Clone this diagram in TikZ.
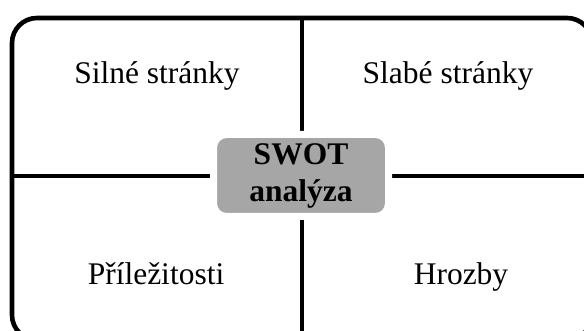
\documentclass[tikz,border=0pt]{standalone}
\usepackage{fontspec}
\setmainfont{Liberation Serif}
\definecolor{swotgray}{HTML}{A6A6A6}
\begin{document}
\begin{tikzpicture}[x=0.5pt,y=-0.5pt,
  rule/.style={line width=2.3pt},
  quad/.style={font=\fontsize{15.75}{18.5}\selectfont, inner sep=0pt, anchor=base},
  core/.style={fill=swotgray, draw=white, line width=3.5pt, rounded corners=6.5pt,
    minimum width=87.5pt, minimum height=41pt, inner sep=0pt, align=center,
    font=\fontsize{15.75}{18.5}\selectfont\bfseries}]
  \clip (0,0) rectangle (584,331);
  % outer rounded frame (runs past the page on the right and bottom)
  \draw[rule, rounded corners=12.5pt] (12,18) rectangle (592,340);
  % dividing cross
  \coordinate (top) at (302,18);
  \coordinate (bottom) at (302,340);
  \coordinate (left) at (12,176);
  \coordinate (right) at (592,176);
  \draw[rule] (top) -- (bottom);
  \draw[rule] (left) -- (right);
  % centre label
  \node[core] (swot) at (301,175.5) {SWOT\\analýza};
  % quadrant labels
  \node[quad] (s) at (157,84) {Silné stránky};
  \node[quad] (w) at (448,84) {Slabé stránky};
  \node[quad] (o) at (156,285) {Příležitosti};
  \node[quad] (t) at (461,285) {Hrozby};
\end{tikzpicture}
\end{document}
